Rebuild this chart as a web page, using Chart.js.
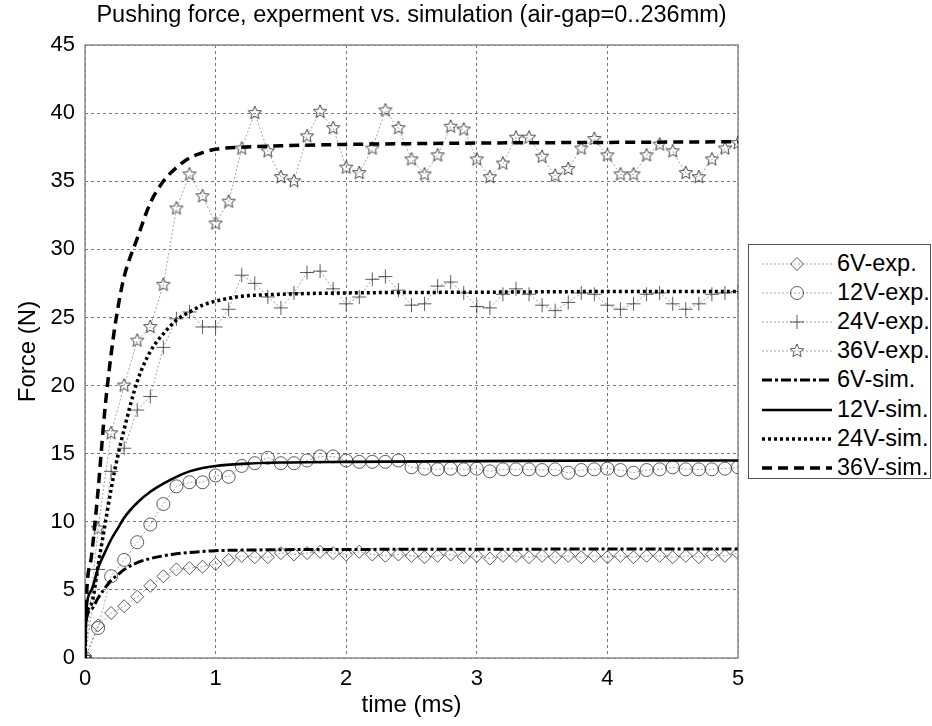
<!DOCTYPE html>
<html><head><meta charset="utf-8">
<script src="https://cdn.jsdelivr.net/npm/chart.js@4.4.1/dist/chart.umd.min.js"></script>
<style>
html,body{margin:0;padding:0;background:#fff;}
#wrap{position:relative;width:932px;height:726px;overflow:hidden;}
canvas{display:block;}
#legend{position:absolute;left:748px;top:244px;width:183px;height:235px;border:1px solid #555;background:#fff;font-family:"Liberation Sans",Arial,sans-serif;font-size:23.5px;color:#000;box-sizing:border-box;}
.lab{position:absolute;left:88px;height:26px;line-height:26px;white-space:nowrap;}
.smp{position:absolute;left:13px;}
</style></head><body>
<div id="wrap"><canvas id="c" width="932" height="726"></canvas><div id="legend"></div></div>
<script>
// ---------- data ----------
const timeExp = [0,0.1,0.2,0.3,0.4,0.5,0.6,0.7,0.8,0.9,1.0,1.1,1.2,1.3,1.4,1.5,1.6,1.7,1.8,1.9,2.0,2.1,2.2,2.3,2.4,2.5,2.6,2.7,2.8,2.9,3.0,3.1,3.2,3.3,3.4,3.5,3.6,3.7,3.8,3.9,4.0,4.1,4.2,4.3,4.4,4.5,4.6,4.7,4.8,4.9,5.0];
const exp6V  = [0,2.4,3.3,3.8,4.5,5.3,6.0,6.5,6.6,6.7,6.9,7.2,7.5,7.4,7.4,7.7,7.6,7.7,7.8,7.7,7.6,7.8,7.6,7.5,7.6,7.5,7.4,7.5,7.6,7.4,7.5,7.3,7.5,7.5,7.4,7.5,7.4,7.5,7.4,7.5,7.4,7.5,7.4,7.5,7.5,7.4,7.5,7.4,7.6,7.5,7.7];
const exp12V = [0,2.2,6.0,7.2,8.5,9.8,11.3,12.6,12.9,12.9,13.4,13.3,14.1,14.3,14.7,14.3,14.3,14.5,14.8,14.8,14.5,14.4,14.4,14.4,14.5,14.0,13.9,13.85,13.9,13.85,13.9,13.7,13.85,13.85,13.85,13.8,13.85,13.6,13.8,13.85,13.9,13.8,13.6,13.8,13.85,14.0,13.85,13.85,13.85,13.9,14.0];
const exp24V = [0,6.5,13.7,15.4,18.2,19.2,22.8,24.9,25.4,24.3,24.3,25.6,28.1,27.5,26.5,25.7,26.8,28.3,28.4,27.1,26.0,26.5,27.8,28.0,27.0,25.9,26.0,27.3,27.6,26.8,25.8,25.7,26.7,27.1,26.7,25.9,25.5,26.1,26.8,26.7,25.9,25.6,26.0,26.7,26.8,26.0,25.6,26.0,26.7,26.8,26.9];
const exp36V = [0,9.5,16.5,20.0,23.3,24.3,27.4,33.0,35.5,33.9,31.9,33.5,37.4,40.0,37.2,35.3,35.0,38.3,40.1,38.9,36.0,35.6,37.4,40.2,38.9,36.6,35.5,36.9,39.0,38.8,36.6,35.3,36.3,38.2,38.2,36.8,35.4,35.9,37.4,38.1,36.9,35.5,35.5,36.9,37.7,37.2,35.6,35.3,36.6,37.4,37.8];

const timeSim = [0,0.005,0.05,0.1,0.15,0.2,0.25,0.3,0.4,0.5,0.6,0.7,0.8,0.9,1.0,1.2,1.5,2.0,3.0,4.0,5.0];
const sim6V  = [0,2.5,3.6,4.4,5.1,5.7,6.1,6.5,7.0,7.3,7.5,7.65,7.75,7.82,7.88,7.92,7.95,7.97,7.98,8.0,8.0];
const sim12V = [0,2.8,5.0,6.6,7.7,8.7,9.5,10.3,11.4,12.2,12.8,13.3,13.7,13.95,14.1,14.25,14.35,14.4,14.45,14.5,14.5];
const sim24V = [0,2.5,4.0,6.8,9.6,12.4,14.8,16.8,20.3,22.5,23.8,24.8,25.4,25.9,26.2,26.55,26.7,26.8,26.85,26.9,26.9];
const sim36V = [0,3.0,7.5,12.3,18.0,22.3,25.6,28.0,30.8,33.4,35.0,36.0,36.7,37.1,37.35,37.5,37.6,37.7,37.8,37.85,37.9];

const seriesLabels = ['6V-exp.','12V-exp.','24V-exp.','36V-exp.','6V-sim.','12V-sim.','24V-sim.','36V-sim.'];
const titleText = 'Pushing force, experment vs. simulation (air-gap=0..236mm)';
const xTitle = 'time (ms)';
const yTitle = 'Force (N)';

// ---------- styles ----------
const FONT = '"Liberation Sans", Arial, Helvetica, sans-serif';
function makeStar(r){
  const s = 2*r+4, c = document.createElement('canvas');
  c.width = s; c.height = s;
  const g = c.getContext('2d');
  g.strokeStyle = '#333'; g.lineWidth = 0.9; g.beginPath();
  for (let k=0;k<10;k++){
    const a = -Math.PI/2 + k*Math.PI/5, rr = (k%2)? r*0.45 : r;
    const px = s/2 + rr*Math.cos(a), py = s/2 + rr*Math.sin(a);
    k ? g.lineTo(px,py) : g.moveTo(px,py);
  }
  g.closePath(); g.stroke();
  return c;
}
const starImg = makeStar(7);

function pts(xs, ys){ return xs.map((x,i)=>({x:x, y:ys[i]})); }
function expDs(label, ys, style, radius){
  return {label, data: pts(timeExp, ys), borderColor:'#8a8a8a', borderWidth:0.8, borderDash:[2,2],
    pointStyle: style, pointRadius: radius, pointBorderColor:'#333', pointBackgroundColor:'rgba(0,0,0,0)',
    pointBorderWidth:0.8, fill:false, tension:0, order:2};
}
function simDs(label, ys, dash, w){
  return {label, data: pts(timeSim, ys), borderColor:'#000', borderWidth:w, borderDash:dash,
    pointRadius:0, fill:false, cubicInterpolationMode:'monotone', order:1, borderCapStyle:'butt'};
}
const datasets = [
  expDs(seriesLabels[0], exp6V, 'rectRot', 6.5),
  expDs(seriesLabels[1], exp12V, 'circle', 6.5),
  expDs(seriesLabels[2], exp24V, 'cross', 7),
  expDs(seriesLabels[3], exp36V, starImg, 7),
  simDs(seriesLabels[4], sim6V, [10,3,3,3], 3),
  simDs(seriesLabels[5], sim12V, [], 2.6),
  simDs(seriesLabels[6], sim24V, [3,3], 3.5),
  simDs(seriesLabels[7], sim36V, [10,6], 3.5)
];

const framePlugin = {
  id:'frame',
  beforeDatasetsDraw(chart){
    const {ctx, chartArea:a} = chart;
    ctx.save(); ctx.strokeStyle = '#8c8c8c'; ctx.lineWidth = 1.5;
    ctx.strokeRect(a.left, a.top, a.right-a.left, a.bottom-a.top);
    ctx.restore();
  }
};

new Chart(document.getElementById('c'), {
  type:'line',
  data:{datasets},
  plugins:[framePlugin],
  options:{
    responsive:false, animation:false, devicePixelRatio:1,
    layout:{padding:{left:0,right:194,top:0,bottom:0}},
    plugins:{
      legend:{display:false}, tooltip:{enabled:false},
      title:{display:true, fullSize:false, text:titleText, color:'#000',
        font:{family:FONT, size:23.5, weight:'normal'}, padding:{top:1, bottom:15.8}}
    },
    scales:{
      x:{type:'linear', min:0, max:5,
        ticks:{stepSize:1, color:'#000', font:{family:FONT,size:22}, padding:8},
        grid:{color:'#555', lineWidth:0.8, drawTicks:false},
        border:{display:false, dash:[3,3]},
        title:{display:true, text:xTitle, color:'#000', font:{family:FONT,size:24}, padding:{top:0,bottom:6.6}},
        afterFit(s){ s.height = 68; }
      },
      y:{type:'linear', min:0, max:45,
        ticks:{stepSize:5, color:'#000', font:{family:FONT,size:22}, padding:10},
        grid:{color:'#555', lineWidth:0.8, drawTicks:false},
        border:{display:false, dash:[3,3]},
        title:{display:true, text:yTitle, color:'#000', font:{family:FONT,size:24}, padding:{top:13.6,bottom:0}},
        afterFit(s){ s.width = 85; }
      }
    }
  }
});

// ---------- HTML legend ----------
const lg = document.getElementById('legend');
const NS = 'http://www.w3.org/2000/svg';
function marker(kind){
  const c = 35, y = 10;
  if (kind==='rectRot') return `<polygon points="${c},${y-6.5} ${c+6.5},${y} ${c},${y+6.5} ${c-6.5},${y}" fill="none" stroke="#333" stroke-width="0.8"/>`;
  if (kind==='circle') return `<circle cx="${c}" cy="${y}" r="6.5" fill="none" stroke="#333" stroke-width="0.8"/>`;
  if (kind==='cross') return `<path d="M${c-7} ${y}H${c+7}M${c} ${y-7}V${y+7}" stroke="#333" stroke-width="0.8"/>`;
  let p = [];
  for (let k=0;k<10;k++){ const a=-Math.PI/2+k*Math.PI/5, rr=(k%2)?3.15:7; p.push((c+rr*Math.cos(a)).toFixed(2)+','+(y+rr*Math.sin(a)).toFixed(2)); }
  return `<polygon points="${p.join(' ')}" fill="none" stroke="#333" stroke-width="0.8"/>`;
}
const kinds = ['rectRot','circle','cross','star'];
const simStyles = [[ '10,3,3,3', 3],[ '', 2.6],[ '3,3', 3.5],[ '10,6', 3.5]];
seriesLabels.forEach((lab,i)=>{
  const cy = 18 + i*29.1;
  let inner;
  if (i<4){
    inner = `<line x1="0" y1="10" x2="70" y2="10" stroke="#8a8a8a" stroke-width="0.8" stroke-dasharray="2,2"/>` + marker(kinds[i]);
  } else {
    const [d,w] = simStyles[i-4];
    inner = `<line x1="0" y1="10" x2="70" y2="10" stroke="#000" stroke-width="${w}" ${d?`stroke-dasharray="${d}"`:''}/>`;
  }
  const sv = document.createElement('div');
  sv.className='smp'; sv.style.top = (cy-10)+'px';
  sv.innerHTML = `<svg width="70" height="20" xmlns="${NS}">${inner}</svg>`;
  lg.appendChild(sv);
  const t = document.createElement('div');
  t.className='lab'; t.style.top=(cy-13)+'px'; t.textContent = lab;
  lg.appendChild(t);
});
</script>
</body></html>
